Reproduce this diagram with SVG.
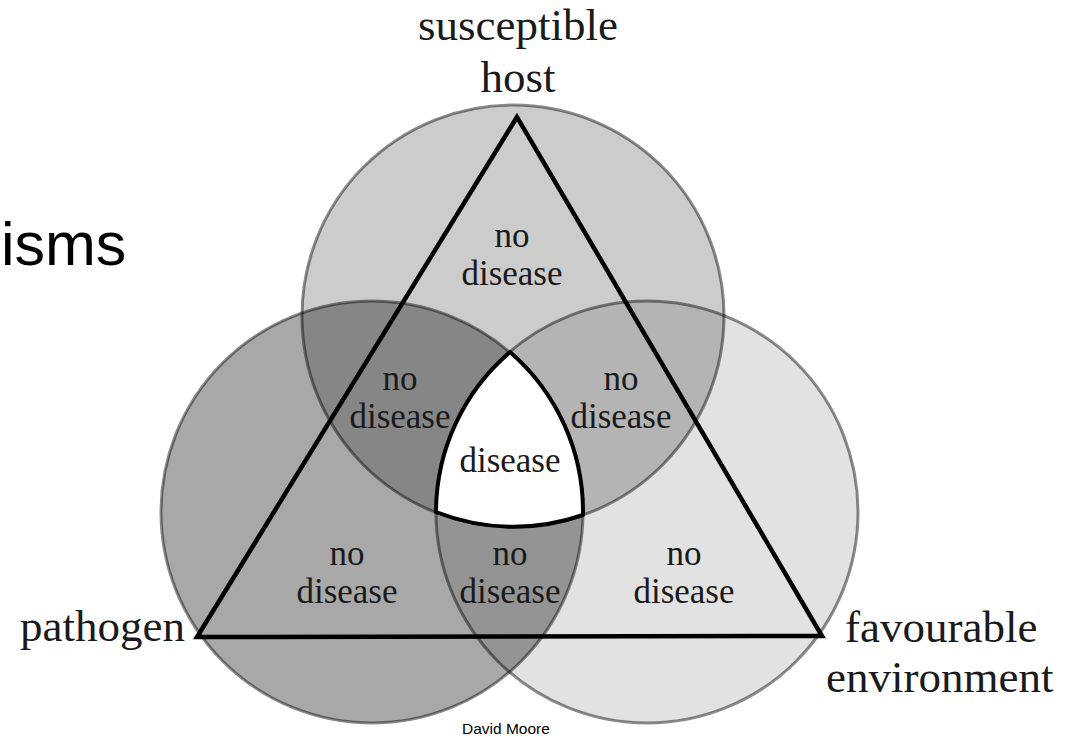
<svg xmlns="http://www.w3.org/2000/svg" width="1067" height="737" viewBox="0 0 1067 737">
  <style>
    .fill { fill: #000; stroke: none; }
    .ring { fill: none; stroke: #000; stroke-opacity: 0.45; stroke-width: 3; }
    .serif { font-family: "Liberation Serif", "Times New Roman", serif; fill: #1a1a1a; text-anchor: middle; }
    .lbl { font-size: 35px; }
    .big { font-size: 45px; }
    .sans { font-family: "Liberation Sans", Arial, sans-serif; fill: #000; }
  </style>
  <rect width="1067" height="737" fill="#fff"/>

  <g id="circle-host">
    <circle class="fill" cx="513" cy="316" r="211" fill-opacity="0.20"/>
  </g>
  <g id="circle-pathogen">
    <circle class="fill" cx="372" cy="512" r="211" fill-opacity="0.34"/>
  </g>
  <g id="circle-environment">
    <circle class="fill" cx="647" cy="512" r="211" fill-opacity="0.115"/>
  </g>
  <g id="outlines">
    <circle class="ring" cx="513" cy="316" r="211"/>
    <circle class="ring" cx="372" cy="512" r="211"/>
    <circle class="ring" cx="647" cy="512" r="211"/>
  </g>

  <g id="disease-region">
    <path d="M510,352 A211,211 0 0 0 436,512 A211,211 0 0 0 583,515 A211,211 0 0 0 510,352 Z" fill="#fff" stroke="#000" stroke-width="4" stroke-linejoin="round"/>
  </g>

  <g id="connectors">
    <polygon points="517,117 197,637 822,636" fill="none" stroke="#000" stroke-width="4.5" stroke-linejoin="miter"/>
  </g>

  <g id="label-host">
    <text class="serif big" x="518" y="40">susceptible</text>
    <text class="serif big" x="518" y="92">host</text>
  </g>
  <g id="label-pathogen">
    <text class="serif big" x="185" y="641" style="text-anchor:end">pathogen</text>
  </g>
  <g id="label-environment">
    <text class="serif big" x="845" y="642" style="text-anchor:start">favourable</text>
    <text class="serif big" x="826" y="692" style="text-anchor:start">environment</text>
  </g>

  <g id="region-labels">
    <text class="serif lbl" x="512" y="247">no</text>
    <text class="serif lbl" x="512" y="285">disease</text>
    <text class="serif lbl" x="400" y="390">no</text>
    <text class="serif lbl" x="400" y="428">disease</text>
    <text class="serif lbl" x="621" y="390">no</text>
    <text class="serif lbl" x="621" y="428">disease</text>
    <text class="serif lbl" x="510" y="472">disease</text>
    <text class="serif lbl" x="347" y="565">no</text>
    <text class="serif lbl" x="347" y="603">disease</text>
    <text class="serif lbl" x="510" y="565">no</text>
    <text class="serif lbl" x="510" y="603">disease</text>
    <text class="serif lbl" x="684" y="565">no</text>
    <text class="serif lbl" x="684" y="603">disease</text>
  </g>

  <g id="slide-text">
    <text class="sans" x="1" y="265" font-size="61">isms</text>
    <text class="sans" x="462" y="734" font-size="15.5">David Moore</text>
  </g>
</svg>
